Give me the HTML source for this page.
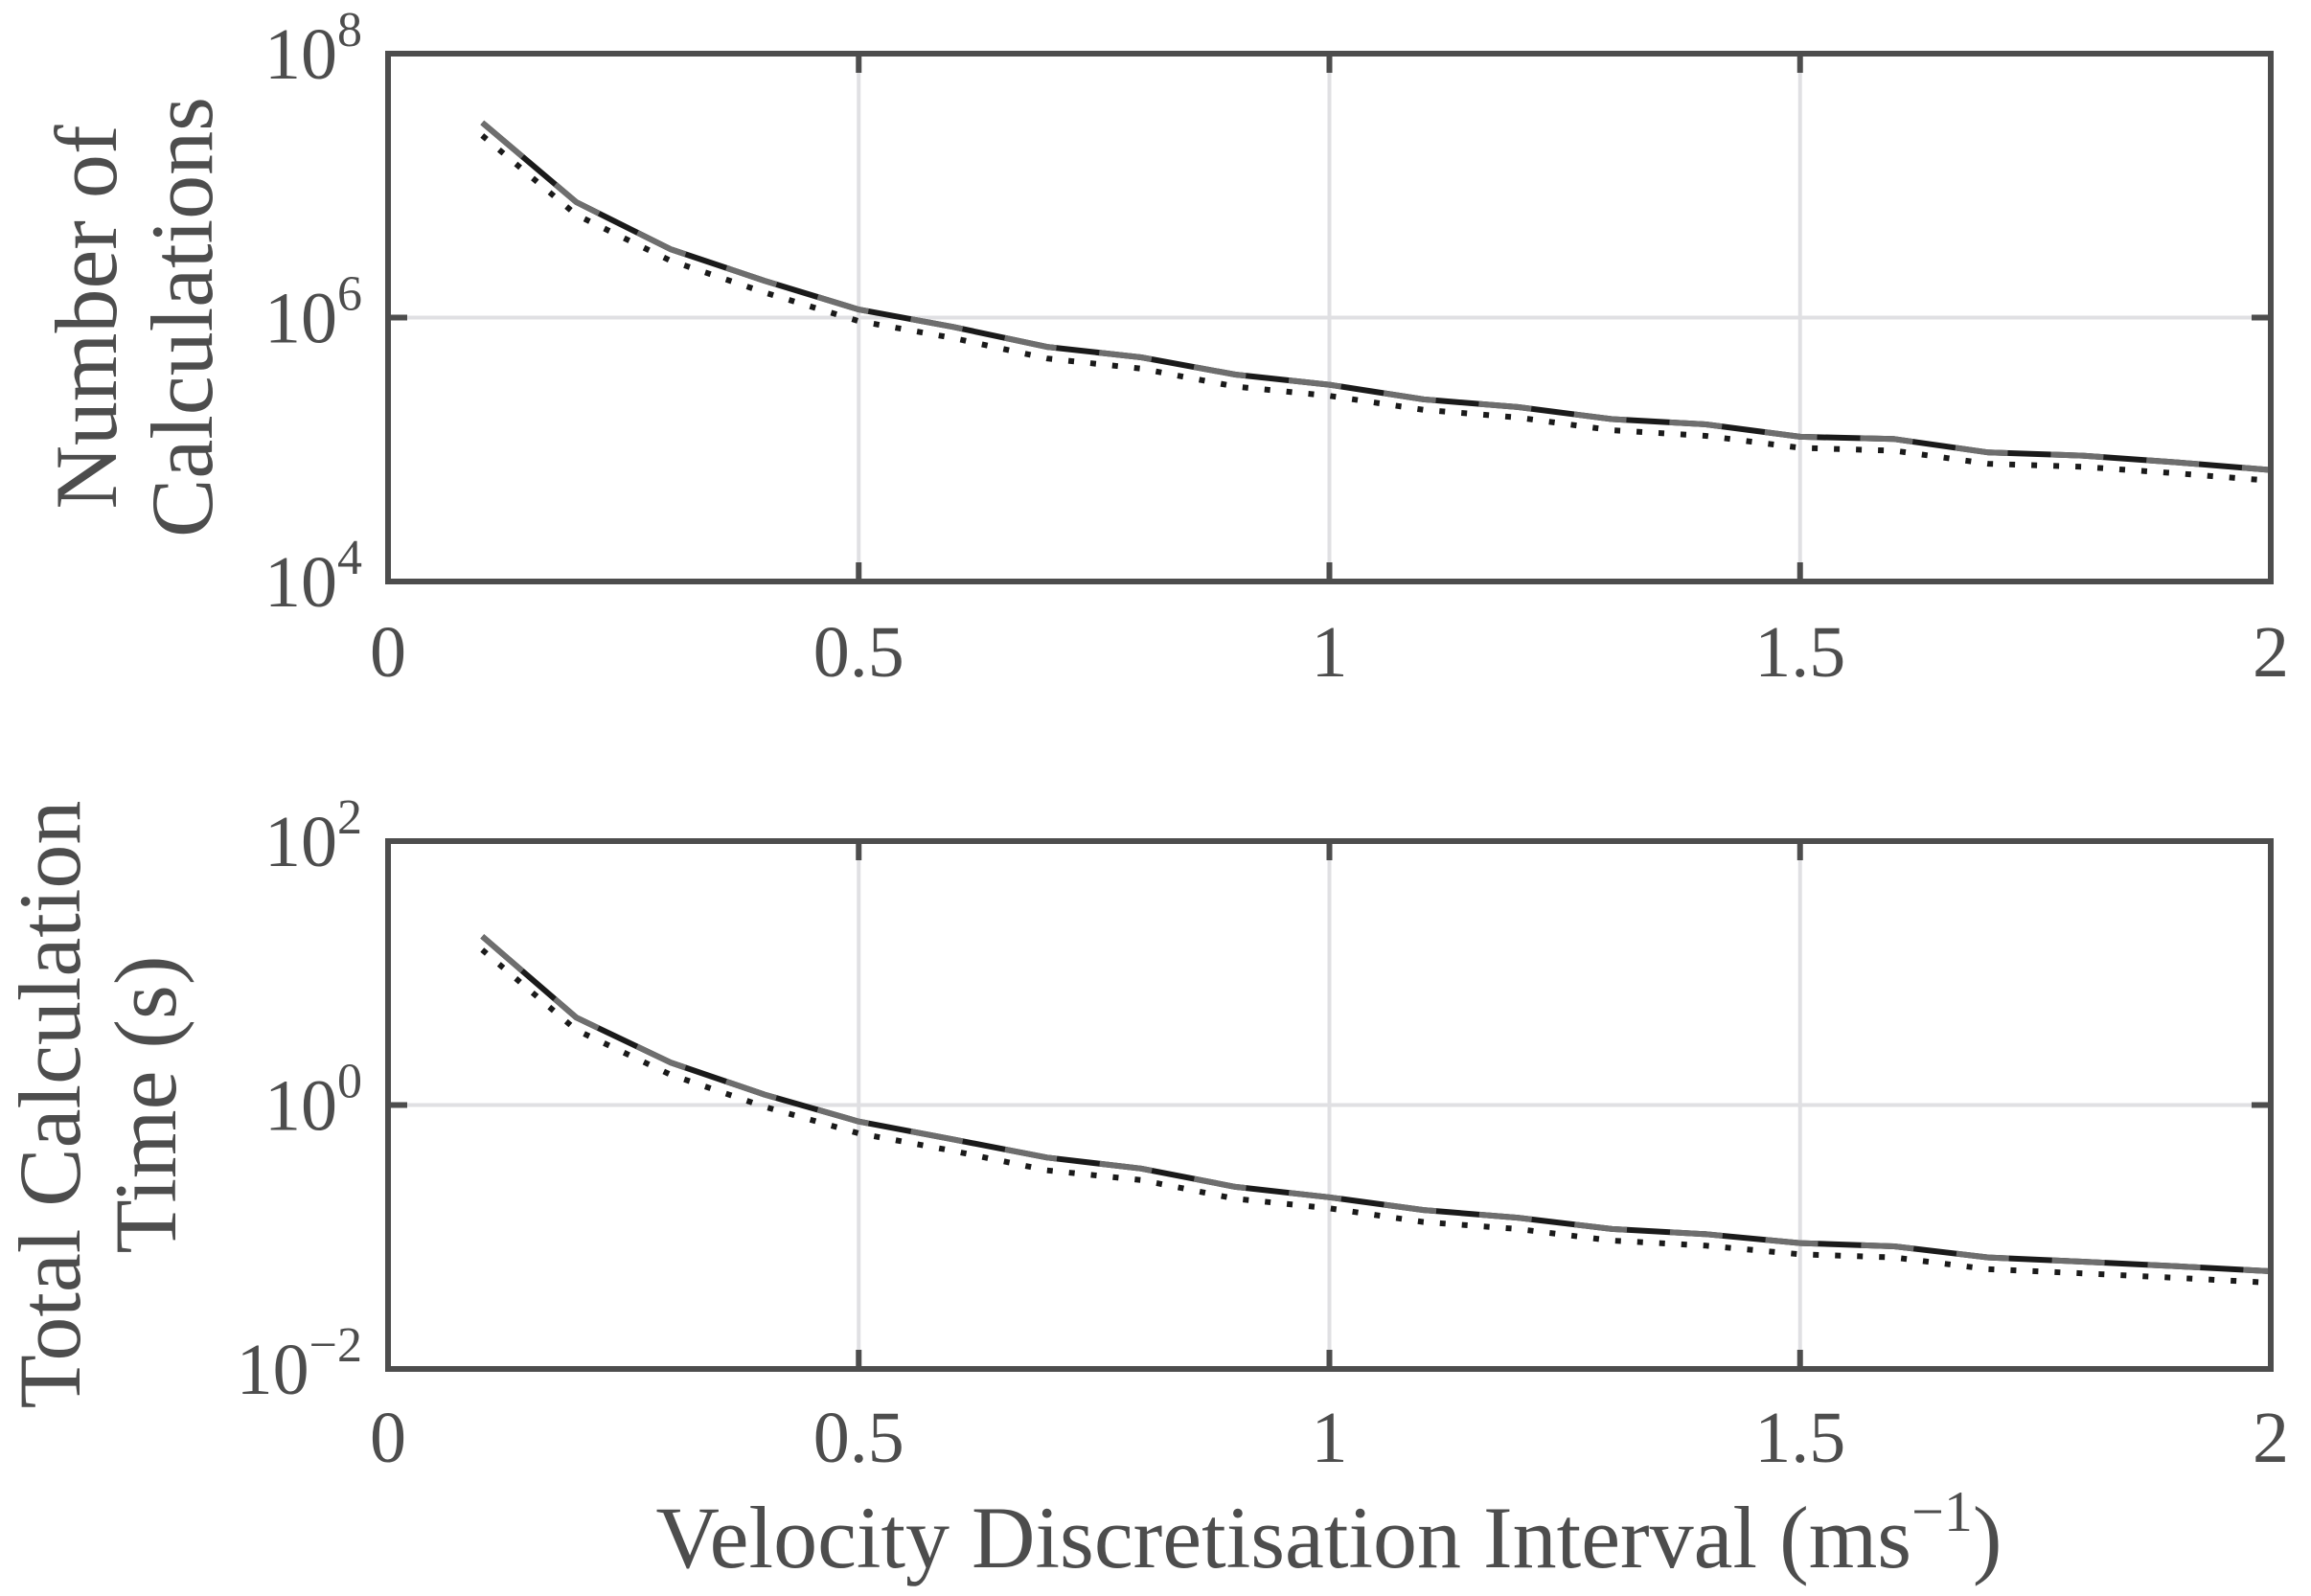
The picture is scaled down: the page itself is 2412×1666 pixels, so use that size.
<!DOCTYPE html>
<html><head><meta charset="utf-8">
<style>
html,body{margin:0;padding:0;background:#fff;}
svg{display:block;}
text{font-family:"Liberation Serif","DejaVu Serif",serif;fill:#4d4d4d;}
</style></head>
<body>
<svg id="fig" width="2412" height="1666" viewBox="0 0 2412 1666" xmlns="http://www.w3.org/2000/svg"></svg>
<script>
const xValues = [0.1,0.2,0.3,0.4,0.5,0.6,0.7,0.8,0.9,1.0,1.1,1.2,1.3,1.4,1.5,1.6,1.7,1.8,1.9,2.0];
const calcsSolid = [3.0e7,7.5e6,3.3e6,1.9e6,1.15e6,8.5e5,6.0e5,5.0e5,3.7e5,3.1e5,2.4e5,2.1e5,1.7e5,1.55e5,1.25e5,1.2e5,9.5e4,9.0e4,8.0e4,7.0e4];
const calcsDotted = [2.4e7,6.0e6,2.7e6,1.55e6,9.4e5,7.0e5,4.9e5,4.1e5,3.0e5,2.55e5,2.0e5,1.75e5,1.4e5,1.27e5,1.03e5,9.8e4,7.8e4,7.4e4,6.6e4,5.8e4];
const timeSolid = [19,4.6,2.1,1.2,0.75,0.55,0.4,0.33,0.24,0.2,0.16,0.14,0.115,0.105,0.09,0.085,0.07,0.065,0.06,0.055];
const timeDotted = [15,3.7,1.7,0.97,0.61,0.45,0.32,0.27,0.195,0.165,0.13,0.115,0.094,0.086,0.074,0.07,0.057,0.053,0.049,0.045];
const xTicks = [0,0.5,1,1.5,2];
const xTickLabels = ["0","0.5","1","1.5","2"];

const NS="http://www.w3.org/2000/svg";
const svg=document.getElementById('fig');
function mk(tag,attrs,parent){const e=document.createElementNS(NS,tag);for(const k in attrs)e.setAttribute(k,attrs[k]);(parent||svg).appendChild(e);return e;}

const L=405,R=2370;
const panels=[
 {top:56,bot:607,lo:4,hi:8,yt:[4,6,8],solid:calcsSolid,dotted:calcsDotted,name:'calculations',xlabBase:706,ylab:["Number of","Calculations"],ylx:[90,190],yc:331},
 {top:878,bot:1429,lo:-2,hi:2,yt:[-2,0,2],solid:timeSolid,dotted:timeDotted,name:'time',xlabBase:1526,ylab:["Total Calculation","Time (s)"],ylx:[52,152],yc:1153}
];
panels.forEach(p=>{
 const g=mk('g',{});
 
 
 const xs=v=>L+(v-0)/(2-0)*(R-L);
 const ys=v=>p.bot-(Math.log10(v)-p.lo)/(p.hi-p.lo)*(p.bot-p.top);
 const ye=e=>p.bot-(e-p.lo)/(p.hi-p.lo)*(p.bot-p.top);
 xTicks.forEach(t=>{const l=mk('line',{x1:xs(t),x2:xs(t),y1:p.top,y2:p.bot,stroke:'#e0e0e3','stroke-width':4},g);
  });
 p.yt.forEach(e=>{const l=mk('line',{x1:L,x2:R,y1:ye(e),y2:ye(e),stroke:'#e0e0e3','stroke-width':4},g);
  });
 const pts=arr=>arr.map((v,i)=>xs(xValues[i]).toFixed(1)+','+ys(v).toFixed(1)).join(' ');
 const s1=mk('polyline',{points:pts(p.solid),fill:'none',stroke:'#1a1a1a','stroke-width':6,'stroke-linejoin':'round'},g);
 
 const s2=mk('polyline',{points:pts(p.solid),fill:'none',stroke:'#6e6e6e','stroke-width':6,'stroke-dasharray':'55 45'},g);
 
 const s3=mk('polyline',{points:pts(p.dotted),fill:'none',stroke:'#1a1a1a','stroke-width':6,'stroke-dasharray':'6 17'},g);
 
 xTicks.forEach(t=>{
  const a=mk('line',{x1:xs(t),x2:xs(t),y1:p.bot,y2:p.bot-20,stroke:'#4d4d4d','stroke-width':6},g);
  
  const b=mk('line',{x1:xs(t),x2:xs(t),y1:p.top,y2:p.top+20,stroke:'#4d4d4d','stroke-width':6},g);
  
 });
 p.yt.forEach(e=>{
  const a=mk('line',{x1:L,x2:L+20,y1:ye(e),y2:ye(e),stroke:'#4d4d4d','stroke-width':6},g);
  
  const b=mk('line',{x1:R,x2:R-20,y1:ye(e),y2:ye(e),stroke:'#4d4d4d','stroke-width':6},g);
  
 });
 const box=mk('rect',{x:L,y:p.top,width:R-L,height:p.bot-p.top,fill:'none',stroke:'#4d4d4d','stroke-width':6},g);
 
 xTicks.forEach((t,i)=>{const tx=mk('text',{x:xs(t),y:p.xlabBase,'text-anchor':'middle','font-size':76},g);tx.textContent=xTickLabels[i];
  });
 p.yt.forEach(e=>{const tx=mk('text',{x:378,y:ye(e)+26,'text-anchor':'end','font-size':76},g);
  
  const b=mk('tspan',{},tx);b.textContent='10';
  const s=mk('tspan',{dy:-34,'font-size':52},tx);s.textContent=String(e).replace('-','\u2212');});
 p.ylab.forEach((t,i)=>{const tx=mk('text',{x:p.ylx[i],y:p.yc,'text-anchor':'middle','font-size':92,transform:'rotate(-90 '+p.ylx[i]+' '+p.yc+')','dominant-baseline':'central'},g);
  tx.textContent=t;});
});
const xt=mk('text',{x:1387,y:1636,'text-anchor':'middle','font-size':92});

mk('tspan',{},xt).textContent='Velocity Discretisation Interval (ms';
mk('tspan',{dy:-38,'font-size':60},xt).textContent='\u22121';
mk('tspan',{dy:38},xt).textContent=')';
</script>
</body></html>
